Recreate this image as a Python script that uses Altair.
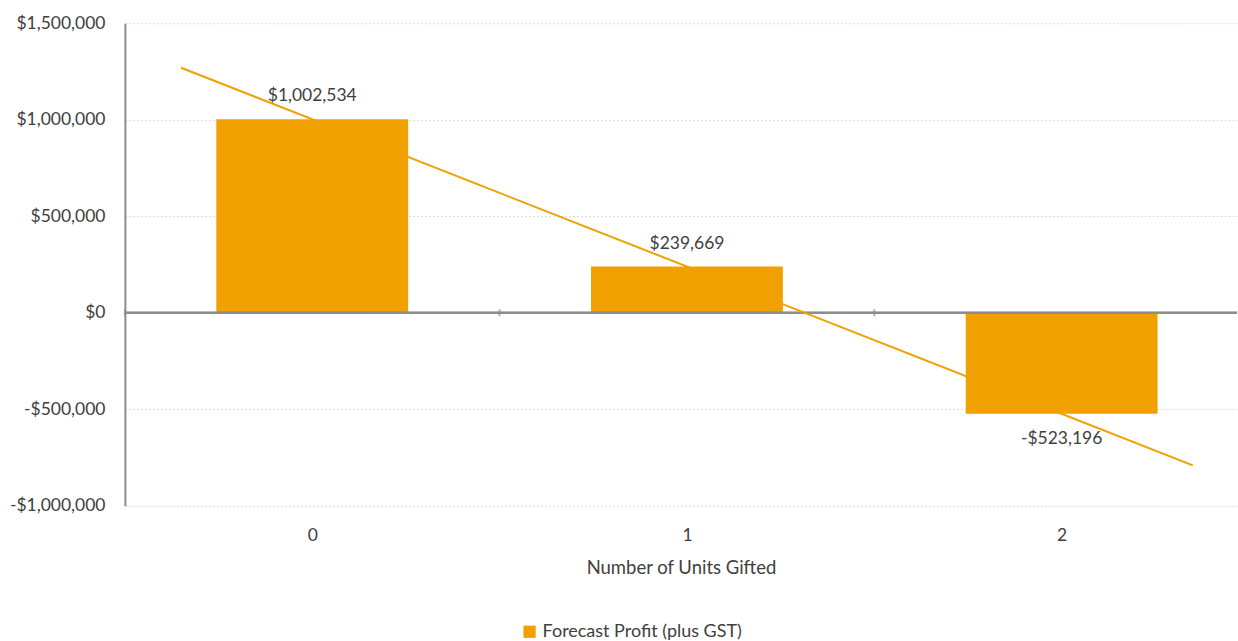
import altair as alt
import pandas as pd

# ---- data ----
categories = ["0", "1", "2"]
positions = [0, 1, 2]
profits = [1002534, 239669, -523196]
series_name = "Forecast Profit (plus GST)"
y_ticks = [-1000000, -500000, 0, 500000, 1000000, 1500000]
x_title = "Number of Units Gifted"

df = pd.DataFrame({
    "units": categories,
    "pos": positions,
    "profit": profits,
    "series": [series_name] * len(categories),
})

ORANGE = "#F0A000"
FONT = "Lato"
TEXT = "#404040"
AXIS_GRAY = "#8c8c8c"

# layout: plot area is 1113 px wide, each category slot is 375 px,
# so the last slot runs slightly past the right edge (as in the original)
PLOT_W = 1113
SLOT_PX = 375
units_visible = PLOT_W / SLOT_PX
BAR_PX = 192

money_axis = "(datum.value < 0 ? '-$' : '$') + format(abs(datum.value), ',')"
money_field = "(datum.profit < 0 ? '-$' : '$') + format(abs(datum.profit), ',')"

yscale = alt.Scale(domain=[-1000000, 1500000], nice=False, zero=False)
xscale = alt.Scale(domain=[-0.5, -0.5 + units_visible], nice=False, zero=False, padding=0)

base = alt.Chart(df)

bars = base.mark_bar(size=BAR_PX).encode(
    x=alt.X("pos:Q", scale=xscale,
            axis=alt.Axis(title=x_title, values=positions, format="d", labelAngle=0,
                          domain=False, ticks=False, grid=False,
                          labelPadding=21, titlePadding=14, labelFlush=False)),
    y=alt.Y("profit:Q", scale=yscale,
            axis=alt.Axis(values=y_ticks, labelExpr=money_axis, title=None,
                          domain=True, domainColor=AXIS_GRAY, domainWidth=2,
                          ticks=False, labelPadding=20, grid=True,
                          gridColor="#d9d9d9", gridDash=[2, 2], gridWidth=1)),
    color=alt.Color("series:N", scale=alt.Scale(range=[ORANGE]),
                    legend=alt.Legend(title=None, orient="none", legendX=396, legendY=600,
                                      symbolType="square", symbolSize=150,
                                      symbolStrokeWidth=0, labelFontSize=18,
                                      labelLimit=400)),
)

zero_line = base.mark_rule(color=AXIS_GRAY, strokeWidth=2).encode(
    y=alt.datum(0)
)

# category-boundary ticks on the zero line (left edge of each slot)
tick_marks = base.transform_calculate(edge="datum.pos - 0.5").mark_tick(
    orient="vertical", size=7, thickness=2, color=AXIS_GRAY
).encode(
    x=alt.X("edge:Q", scale=xscale),
    y=alt.datum(0),
)

labels_pos = base.transform_filter("datum.profit >= 0").transform_calculate(
    lbl=money_field
).mark_text(dy=-23, fontSize=17.5, color=TEXT, font=FONT, baseline="middle").encode(
    x=alt.X("pos:Q", scale=xscale),
    y=alt.Y("profit:Q", scale=yscale),
    text="lbl:N",
)

labels_neg = base.transform_filter("datum.profit < 0").transform_calculate(
    lbl=money_field
).mark_text(dy=25, fontSize=17.5, color=TEXT, font=FONT, baseline="middle").encode(
    x=alt.X("pos:Q", scale=xscale),
    y=alt.Y("profit:Q", scale=yscale),
    text="lbl:N",
)

trend = base.transform_regression("pos", "profit", extent=[-0.35, 2.35]).mark_line(
    color=ORANGE, strokeWidth=2
).encode(
    x=alt.X("pos:Q", scale=xscale),
    y=alt.Y("profit:Q", scale=yscale),
)

chart = alt.layer(bars, zero_line, tick_marks, labels_pos, labels_neg, trend).properties(
    width=PLOT_W, height=483,
    padding={"left": 9, "top": 14, "right": 0, "bottom": 0},
).configure_view(stroke=None).configure_axis(
    labelFont=FONT, labelFontSize=17.5, labelColor=TEXT,
    titleFont=FONT, titleFontSize=18.5, titleColor=TEXT, titleFontWeight="normal",
).configure_legend(labelFont=FONT, labelColor=TEXT)

chart.save("out.html", embed_options={"renderer": "svg", "actions": False})
